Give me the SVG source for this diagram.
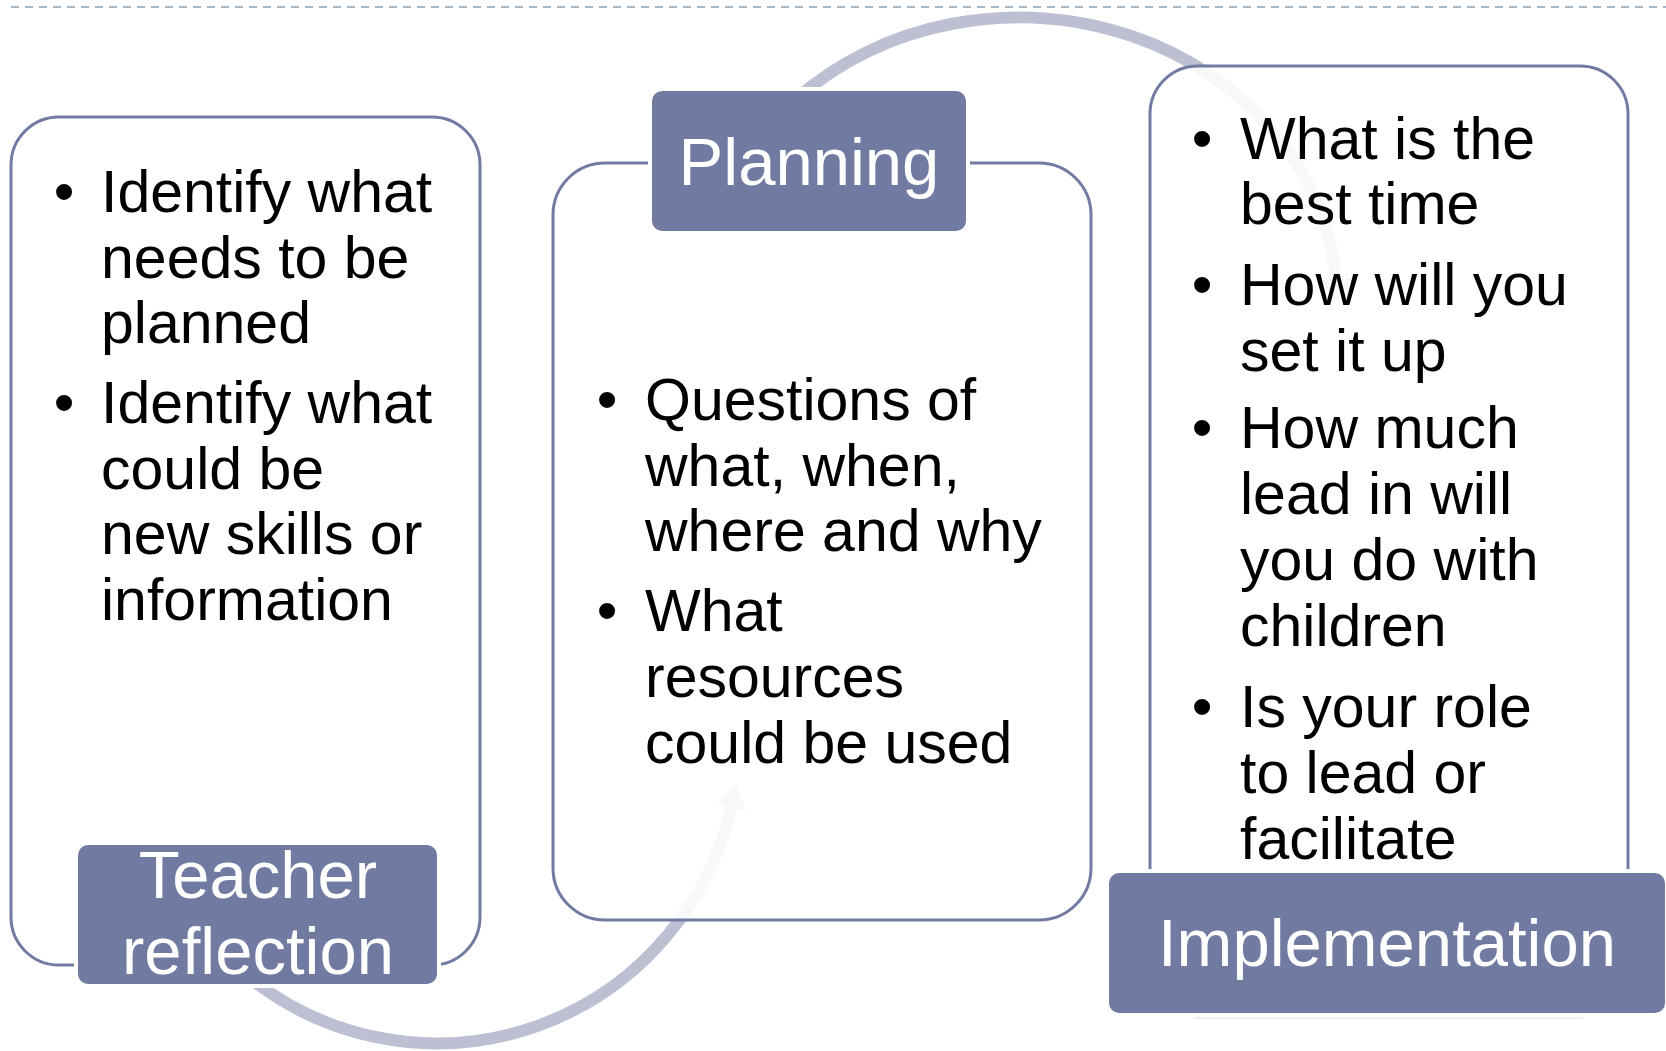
<svg xmlns="http://www.w3.org/2000/svg" width="1666" height="1051" viewBox="0 0 1666 1051">
  <defs>
    <style>
      .outline { fill: #ffffff; fill-opacity: 0.88; stroke: #717ba1; stroke-width: 3; }
      .label { fill: #717ba1; stroke: #ffffff; stroke-width: 8; paint-order: stroke; }
      .labeltext { fill: #ffffff; font-family: "Liberation Sans", Arial, sans-serif; font-size: 67px; text-anchor: middle; }
      .body { fill: #000000; font-family: "Liberation Sans", Arial, sans-serif; font-size: 59px; }
      .bullet { fill: #000000; font-family: "Liberation Sans", Arial, sans-serif; font-size: 59px; text-anchor: middle; }
      .arc { fill: none; stroke: #bcc0d2; stroke-width: 12; }
    </style>
    <marker id="head" markerUnits="userSpaceOnUse" markerWidth="24" markerHeight="30" viewBox="0 0 24 30" refX="3" refY="15" orient="auto">
      <path d="M0,0 L24,15 L0,30 z" fill="#bcc0d2"/>
    </marker>
  </defs>

  <rect width="1666" height="1051" fill="#ffffff"/>

  <line x1="11" y1="7" x2="1666" y2="7" stroke="#a4b8cc" stroke-width="2" stroke-dasharray="8 6"/>

  <g id="connectors">
    <path class="arc" d="M795,100 A318,285 0 0 1 1336,282" marker-end="url(#head)"/>
    <path class="arc" d="M246,975 A303,307 0 0 0 732,805" marker-end="url(#head)"/>
  </g>

  <g id="teacher-reflection">
    <rect class="outline" x="11" y="117" width="469" height="848" rx="48" ry="48"/>
    <text class="bullet" x="64" y="212">•</text>
    <text class="body" x="101" y="212">Identify what</text>
    <text class="body" x="101" y="278">needs to be</text>
    <text class="body" x="101" y="343">planned</text>
    <text class="bullet" x="64" y="423">•</text>
    <text class="body" x="101" y="423">Identify what</text>
    <text class="body" x="101" y="489">could be</text>
    <text class="body" x="101" y="554">new skills or</text>
    <text class="body" x="101" y="620">information</text>
    <rect class="label" x="78" y="845" width="359" height="139" rx="10" ry="10"/>
    <text class="labeltext" x="258" y="898">Teacher</text>
    <text class="labeltext" x="258" y="974">reflection</text>
  </g>

  <g id="planning">
    <rect class="outline" x="553" y="163" width="538" height="757" rx="52" ry="52"/>
    <text class="bullet" x="607" y="420">•</text>
    <text class="body" x="645" y="420">Questions of</text>
    <text class="body" x="645" y="486">what, when,</text>
    <text class="body" x="645" y="551">where and why</text>
    <text class="bullet" x="607" y="631">•</text>
    <text class="body" x="645" y="631">What</text>
    <text class="body" x="645" y="697">resources</text>
    <text class="body" x="645" y="763">could be used</text>
    <rect class="label" x="652" y="91" width="314" height="140" rx="10" ry="10"/>
    <text class="labeltext" x="809" y="185">Planning</text>
  </g>

  <g id="implementation">
    <rect class="outline" x="1150" y="66" width="478" height="940" rx="48" ry="48"/>
    <line x1="1194" y1="1018" x2="1583" y2="1018" stroke="#eef0f4" stroke-width="2"/>
    <text class="bullet" x="1202" y="159">•</text>
    <text class="body" x="1240" y="159">What is the</text>
    <text class="body" x="1240" y="224">best time</text>
    <text class="bullet" x="1202" y="305">•</text>
    <text class="body" x="1240" y="305">How will you</text>
    <text class="body" x="1240" y="371">set it up</text>
    <text class="bullet" x="1202" y="448">•</text>
    <text class="body" x="1240" y="448">How much</text>
    <text class="body" x="1240" y="514">lead in will</text>
    <text class="body" x="1240" y="580">you do with</text>
    <text class="body" x="1240" y="646">children</text>
    <text class="bullet" x="1202" y="727">•</text>
    <text class="body" x="1240" y="727">Is your role</text>
    <text class="body" x="1240" y="793">to lead or</text>
    <text class="body" x="1240" y="859">facilitate</text>
    <rect class="label" x="1109" y="873" width="556" height="140" rx="10" ry="10"/>
    <text class="labeltext" x="1387" y="966">Implementation</text>
  </g>
</svg>
